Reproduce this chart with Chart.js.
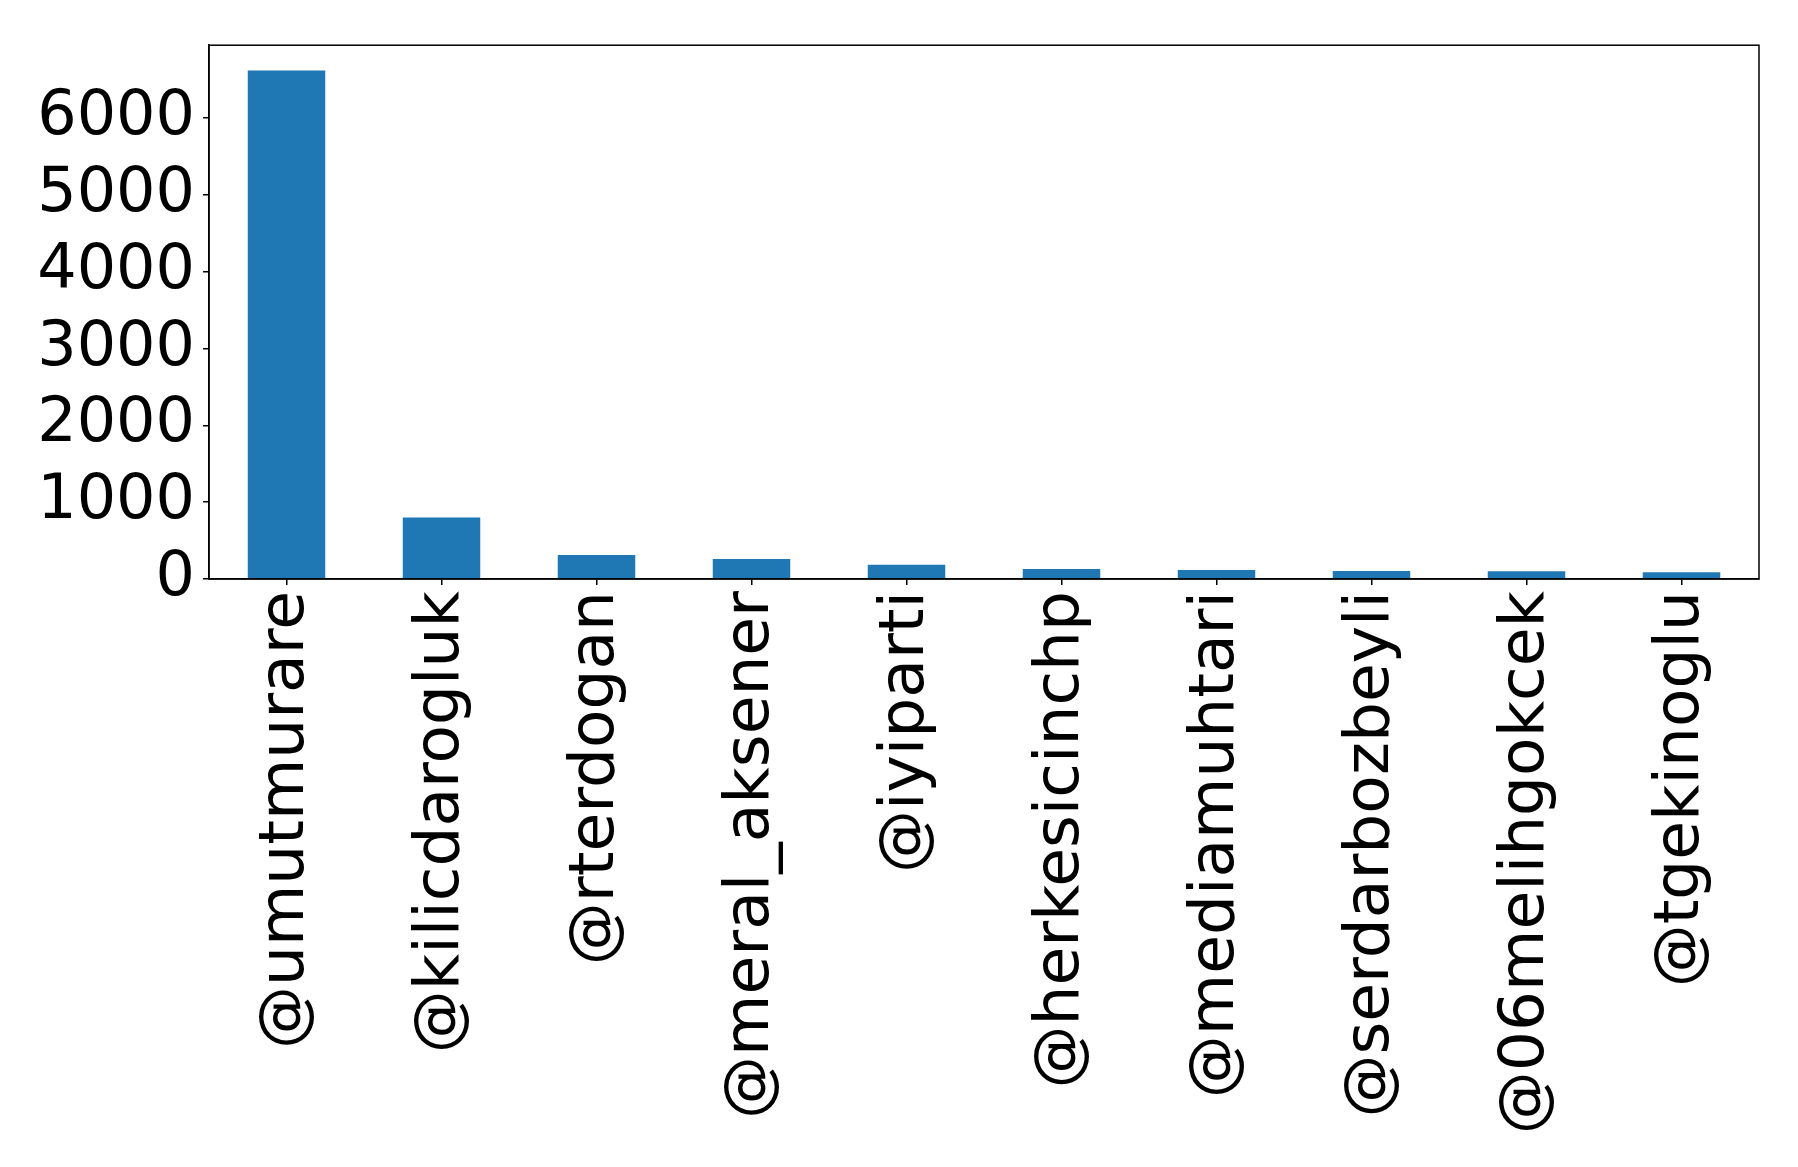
<!DOCTYPE html>
<html>
<head>
<meta charset="utf-8">
<script src="https://cdn.jsdelivr.net/npm/chart.js@4"></script>
<style>
  html, body { margin: 0; padding: 0; background: #fff; }
  #wrap { width: 1798px; height: 1167px; }
</style>
</head>
<body>
<div id="wrap"><canvas id="grafico" width="1798" height="1167"></canvas></div>
<script>
// dados do gráfico
const contas = ['@umutmurare', '@kilicdarogluk', '@rterdogan', '@meral_aksener', '@iyiparti',
  '@herkesicinchp', '@mediamuhtari', '@serdarbozbeyli', '@06melihgokcek', '@tgekinoglu'];
const mencoes = [6620, 800, 313, 262, 185, 130, 116, 103, 102, 89];
const yMax = 6950;
const yTicks = [0, 1000, 2000, 3000, 4000, 5000, 6000];

// moldura em volta da área do gráfico
const moldura = {
  id: 'moldura',
  afterDraw(chart) {
    const { ctx, chartArea: a } = chart;
    ctx.save();
    ctx.strokeStyle = '#000';
    ctx.lineWidth = 1.5;
    ctx.strokeRect(a.left, a.top, a.right - a.left, a.bottom - a.top);
    ctx.restore();
  }
};

const ctx = document.getElementById('grafico').getContext('2d');
new Chart(ctx, {
  type: 'bar',
  data: {
    labels: contas,
    datasets: [{
      data: mencoes,
      backgroundColor: '#1f77b4',
      borderWidth: 0,
      barPercentage: 0.5,
      categoryPercentage: 1
    }]
  },
  options: {
    responsive: false,
    devicePixelRatio: 1,
    animation: false,
    layout: { padding: { top: 40, right: 39, left: 0, bottom: 0 } },
    plugins: {
      legend: { display: false },
      tooltip: { enabled: false }
    },
    scales: {
      x: {
        grid: { display: true, offset: false, drawOnChartArea: false, drawTicks: true, tickLength: 6, color: '#000', lineWidth: 1.5 },
        border: { display: true, color: '#000', width: 1.5 },
        ticks: {
          minRotation: 90,
          maxRotation: 90,
          autoSkip: false,
          padding: 6,
          color: '#000',
          font: { family: 'DejaVu Sans', size: 63 }
        },
        afterFit(scale) { scale.height = 1167 - 579; }
      },
      y: {
        min: 0,
        max: yMax,
        afterBuildTicks(scale) { scale.ticks = yTicks.map(v => ({ value: v })); },
        grid: { display: true, drawOnChartArea: false, drawTicks: true, tickLength: 6, color: '#000', lineWidth: 1.5 },
        border: { display: true, color: '#000', width: 1.5 },
        ticks: {
          autoSkip: false,
          padding: 8,
          color: '#000',
          font: { family: 'DejaVu Sans', size: 62 },
          callback: v => String(v)
        },
        afterFit(scale) { scale.width = 209; }
      }
    }
  },
  plugins: [moldura]
});
</script>
</body>
</html>
